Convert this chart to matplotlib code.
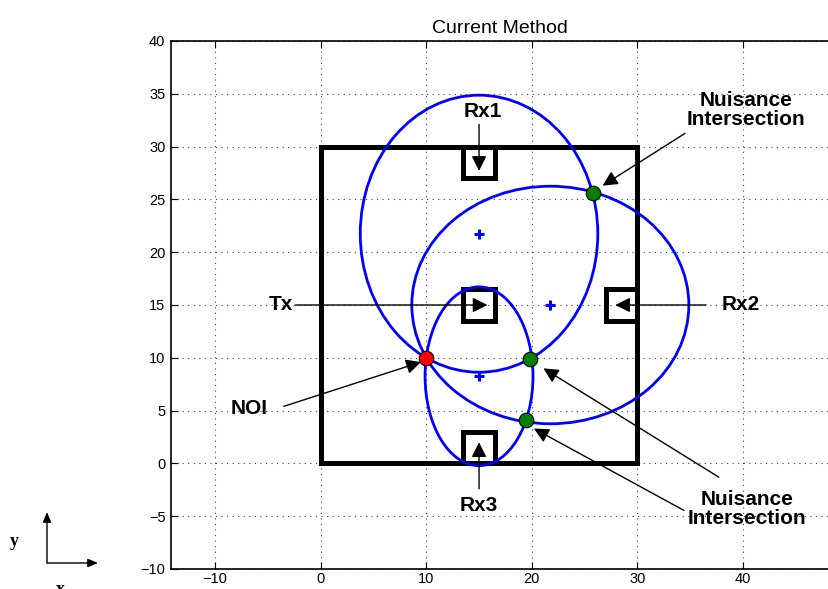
import numpy as np
import matplotlib
matplotlib.use("Agg")
import matplotlib.pyplot as plt
from matplotlib.patches import Ellipse, Rectangle

plt.rcParams['font.family'] = ['Liberation Sans', 'DejaVu Sans']

# scene geometry
TX = (15.0, 15.0)
RX = [(15.0, 28.5), (28.5, 15.0), (15.0, 1.5)]
NOI = (10.0, 10.0)
NUISANCE_X = [25.76, 19.8, 19.4]
NUISANCE_Y = [25.57, 9.85, 4.07]
AREA = 30.0       # outer square side
BOX = 3.0         # antenna box side
XTICKS = [-10, 0, 10, 20, 30, 40]
YTICKS = [-10, -5, 0, 5, 10, 15, 20, 25, 30, 35, 40]

fig = plt.figure(figsize=(8.29, 5.89), dpi=100)
ax = fig.add_axes([171 / 829, 20 / 589, 1 - 171 / 829, 528 / 589])
ax.set_xlim(-14.17, 48.14)
ax.set_ylim(-10, 40)
ax.set_aspect('equal', adjustable='box')

# grid, ticks
ax.set_xticks(XTICKS)
ax.set_yticks(YTICKS)
ax.grid(True, linestyle=(0, (1, 4)), color='0.25', linewidth=0.8)
ax.tick_params(direction='in', length=5, width=0.8, top=True, labelsize=10.5)
ax.tick_params(axis='x', pad=2)
ax.tick_params(axis='y', pad=4)
for s in ['left', 'bottom', 'top']:
    ax.spines[s].set_linewidth(1.2)
ax.spines['right'].set_visible(False)
ax.set_title("Current Method", fontsize=14, pad=6)

# outer area
ax.add_patch(Rectangle((0, 0), AREA, AREA, fill=False, edgecolor='black',
                       linewidth=3.6, joinstyle='miter', zorder=3))

# antenna boxes
for p in [TX] + RX:
    ax.add_patch(Rectangle((p[0] - BOX / 2, p[1] - BOX / 2), BOX, BOX, fill=False,
                           edgecolor='black', linewidth=3.6, joinstyle='miter', zorder=3))

# bistatic ellipses through the NOI
tx = np.array(TX)
noi = np.array(NOI)
for r in RX:
    r = np.array(r)
    ctr = (tx + r) / 2
    c = np.linalg.norm(r - tx) / 2
    a = (np.linalg.norm(noi - tx) + np.linalg.norm(noi - r)) / 2
    b = np.sqrt(a ** 2 - c ** 2)
    ang = np.degrees(np.arctan2(r[1] - tx[1], r[0] - tx[0]))
    ax.add_patch(Ellipse(ctr, 2 * a, 2 * b, angle=ang, fill=False,
                         edgecolor='blue', linewidth=2.0, zorder=4))
    ax.plot(ctr[0], ctr[1], '+', color='blue', markersize=7, mew=2.2, zorder=4)

ax.plot(NUISANCE_X, NUISANCE_Y, 'o', color='green', markeredgecolor='black',
        markersize=10.5, mew=0.8, zorder=6)
ax.plot(NOI[0], NOI[1], 'o', color='red', markeredgecolor='black',
        markersize=10.5, mew=0.8, zorder=6)

# annotations
arr = dict(arrowstyle='-|>,head_length=0.9,head_width=0.45', color='black',
           lw=1.0, shrinkA=0, shrinkB=0)
tk = dict(fontsize=15, fontweight='bold', ha='center', va='center')

def arrow(start, tip):
    ax.annotate('', xy=tip, xytext=start, arrowprops=arr, zorder=7)

ax.text(15.4, 33.3, "Rx1", **tk)
arrow((15, 32.1), (15, 27.7))
ax.text(-2.65, 15, "Tx", fontsize=15, fontweight='bold', ha='right', va='center')
arrow((-2.4, 15), (15.8, 15))
ax.text(39.8, 15, "Rx2", **tk)
arrow((36.5, 15), (27.9, 15))
ax.text(15, -4.0, "Rx3", **tk)
arrow((15, -2.4), (15, 2.0))
ax.text(-6.8, 5.2, "NOI", **tk)
arrow((-3.5, 5.4), (9.5, 9.6))
ax.text(40.3, 33.5, "Nuisance\nIntersection", linespacing=1.0, **tk)
arrow((34.5, 31.25), (26.7, 26.3))
ax.text(40.4, -4.35, "Nuisance\nIntersection", linespacing=1.0, **tk)
arrow((37.7, -1.3), (21.1, 9.0))
arrow((34.4, -4.45), (20.2, 3.3))

# little coordinate indicator in the lower left corner
fa = dict(arrowstyle='-|>,head_length=0.6,head_width=0.25', color='black',
          lw=1.0, shrinkA=0, shrinkB=0)
ax.annotate('', xy=(47 / 829, 1 - 512 / 589), xytext=(47 / 829, 1 - 563 / 589),
            xycoords='figure fraction', textcoords='figure fraction', arrowprops=fa)
ax.annotate('', xy=(98 / 829, 1 - 563 / 589), xytext=(47 / 829, 1 - 563 / 589),
            xycoords='figure fraction', textcoords='figure fraction', arrowprops=fa)
fig.text(14 / 829, 1 - 541 / 589, "y", family=['Liberation Serif', 'DejaVu Serif'],
         fontsize=13, fontweight='bold', ha='center', va='center')
fig.text(60 / 829, 1 - 590 / 589, "x", family=['Liberation Serif', 'DejaVu Serif'],
         fontsize=13, fontweight='bold', ha='center', va='center')

fig.savefig("out.png", dpi=100, facecolor='white')
